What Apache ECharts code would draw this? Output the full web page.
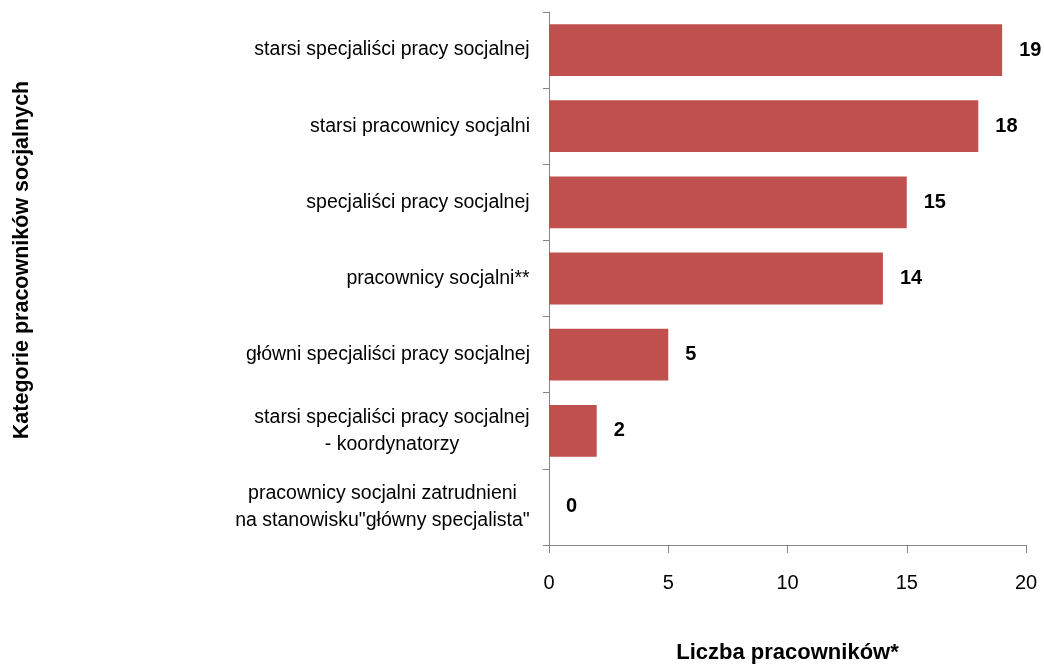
<!DOCTYPE html>
<html>
<head>
<meta charset="utf-8">
<script src="https://cdn.jsdelivr.net/npm/echarts@6/dist/echarts.min.js"></script>
<style>
  html, body { margin: 0; padding: 0; background: #fff; }
  #chart { width: 1044px; height: 667px; }
</style>
</head>
<body>
<div id="chart"></div>
<script>
// categories, top to bottom
const categories = [
    'starsi specjaliści pracy socjalnej',
    'starsi pracownicy socjalni',
    'specjaliści pracy socjalnej',
    'pracownicy socjalni**',
    'główni specjaliści pracy socjalnej',
    'starsi specjaliści pracy socjalnej\n- koordynatorzy',
    'pracownicy socjalni zatrudnieni\nna stanowisku"główny specjalista"'
];
const workers = [19, 18, 15, 14, 5, 2, 0];
const xTicks = [0, 5, 10, 15, 20];

const font = '"Liberation Sans", Arial, sans-serif';
const axisGray = '#868686';
const catFontSize = 19.5;

// multi-line labels: block right-aligned to the axis, lines centred inside it
const measureCtx = document.createElement('canvas').getContext('2d');
measureCtx.font = catFontSize + 'px ' + font;
function labelWidth(text) {
    return Math.ceil(Math.max(...text.split('\n').map(line => measureCtx.measureText(line).width)));
}
const labelRich = {};
categories.forEach((name, i) => {
    labelRich['c' + i] = {
        width: labelWidth(name),
        align: 'center',
        fontFamily: font,
        fontSize: catFontSize,
        lineHeight: 27,
        color: '#000'
    };
});

const chart = echarts.init(document.getElementById('chart'));
chart.setOption({
    animation: false,
    textStyle: { fontFamily: font },
    grid: { left: 549, right: 18, top: 12, bottom: 122, containLabel: false, outerBoundsMode: 'none' },
    xAxis: {
        type: 'value',
        min: xTicks[0],
        max: xTicks[xTicks.length - 1],
        interval: 5,
        name: 'Liczba pracowników*',
        nameLocation: 'middle',
        nameGap: 97,
        nameTextStyle: { fontFamily: font, fontSize: 22, fontWeight: 'bold', color: '#000' },
        axisLine: { show: true, lineStyle: { color: axisGray, width: 1 } },
        axisTick: { show: true, length: 8, lineStyle: { color: axisGray } },
        axisLabel: { fontFamily: font, fontSize: 20, color: '#000', margin: 28 },
        splitLine: { show: false }
    },
    yAxis: {
        type: 'category',
        data: categories,
        inverse: true,
        axisLine: { show: true, lineStyle: { color: axisGray, width: 1 } },
        axisTick: { show: true, length: 6, lineStyle: { color: axisGray } },
        axisLabel: {
            margin: 19,
            align: 'right',
            formatter: (value, index) => value.split('\n').map(line => '{c' + index + '|' + line + '}').join('\n'),
            rich: labelRich
        },
        splitLine: { show: false }
    },
    graphic: [{
        type: 'text',
        x: 22,
        y: 260,
        rotation: Math.PI / 2,
        style: {
            text: 'Kategorie pracowników socjalnych',
            font: 'bold 21.5px ' + font,
            fill: '#000',
            align: 'center',
            verticalAlign: 'middle'
        }
    }],
    series: [{
        type: 'bar',
        data: workers,
        barCategoryGap: '32%',
        itemStyle: { color: '#C0504D' },
        label: {
            show: true,
            position: 'right',
            distance: 17,
            fontFamily: font,
            fontSize: 20,
            fontWeight: 'bold',
            color: '#000'
        }
    }]
});
</script>
</body>
</html>
